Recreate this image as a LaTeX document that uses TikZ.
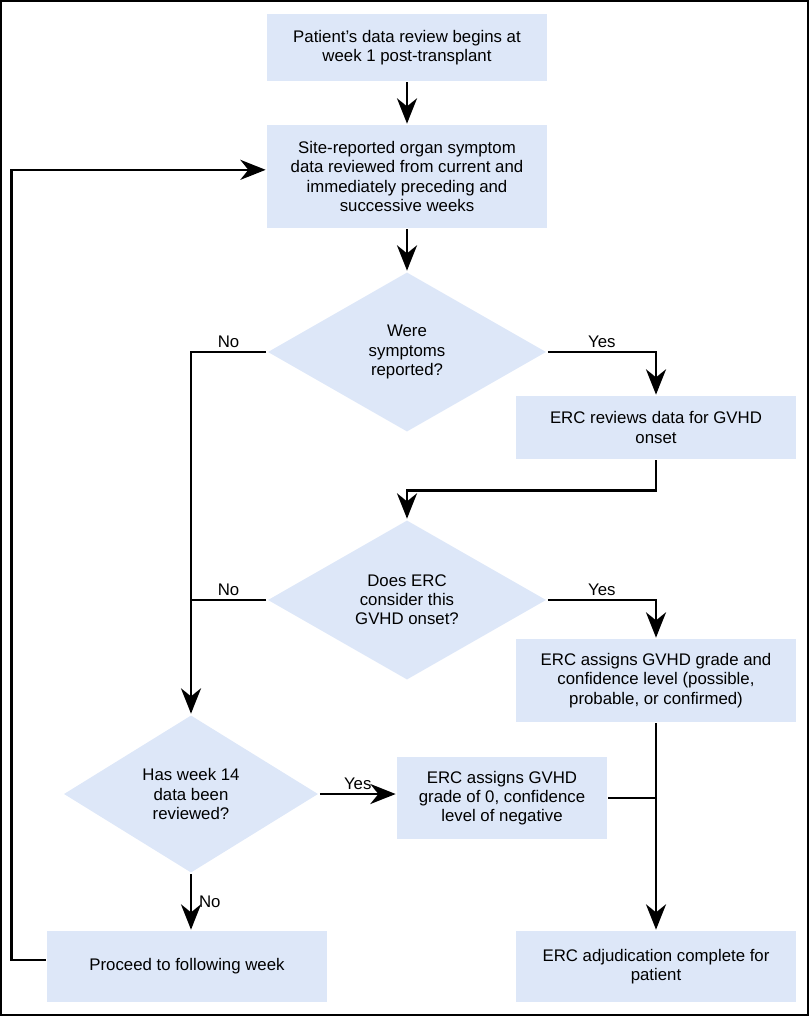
\documentclass[tikz,border=0pt]{standalone}
\usepackage{fontspec}
\setmainfont{Liberation Sans}
\usetikzlibrary{shapes.geometric}
\usetikzlibrary{arrows.meta}
\usetikzlibrary{calc}

\definecolor{boxblue}{RGB}{221,231,248}

\begin{document}
\begin{tikzpicture}[
	x=0.75pt,
	y=-0.75pt,
	font=\fontsize{12.6}{14.4}\selectfont,
	line width=2pt]

\tikzstyle{process}=[rectangle,fill=boxblue,align=center,inner sep=0pt,
	minimum width=210pt]
\tikzstyle{decision}=[diamond,fill=boxblue,align=center,inner sep=0pt,
	aspect=1.74]
\tikzstyle{flow}=[-{Stealth[length=19pt,width=15pt,inset=6pt]}]
\tikzstyle{answer}=[inner sep=2pt]

\def\MainX{407}
\def\RightX{656}
\def\LeftX{191}

\useasboundingbox (0,0) rectangle (810,1017);

% frame
\draw[line width=1.3pt] (1,1) rectangle (808,1015);

% main column
\node (start) at (\MainX, 47.5) [process, minimum height=50.25pt]
	{Patient’s data review begins at\\week 1 post-transplant};
\node (review) at (\MainX, 176.5) [process, minimum height=77.25pt]
	{Site-reported organ symptom\\data reviewed from current and\\immediately preceding and\\successive weeks};
\node (symptoms) at (\MainX, 352) [decision,
	minimum width=209.25pt, minimum height=120pt]
	{Were\\symptoms\\reported?};
\node (onset) at (\MainX, 600) [decision,
	minimum width=209.25pt, minimum height=120pt]
	{Does ERC\\consider this\\GVHD onset?};

% right column
\node (ercreview) at (\RightX, 427.5) [process, minimum height=47.25pt]
	{ERC reviews data for GVHD\\onset};
\node (grade) at (\RightX, 680.5) [process, minimum height=62.25pt]
	{ERC assigns GVHD grade and\\confidence level (possible,\\probable, or confirmed)};
\node (complete) at (\RightX, 966.5) [process, minimum height=53.25pt]
	{ERC adjudication complete for\\patient};

% left column
\node (week14) at (\LeftX, 794) [decision,
	minimum width=191.25pt, minimum height=118.5pt]
	{Has week 14\\data been\\reviewed?};
\node (negative) at (502, 798) [process,
	minimum width=157.5pt, minimum height=61.5pt]
	{ERC assigns GVHD\\grade of 0, confidence\\level of negative};
\node (nextweek) at (187, 966.5) [process, minimum height=53.25pt]
	{Proceed to following week};

% connectors
\draw[flow] (start) -- (review);
\draw[flow] (review) -- (symptoms);

\draw[flow] (symptoms.east) -| node[answer,above,pos=0.25] {Yes}
	(ercreview.north);
\draw[flow] (symptoms.west) -| node[answer,above,pos=0.25] {No}
	(week14.north);

\draw[flow] (ercreview.south) -- ++(0,30) -| (onset.north);

\draw[flow] (onset.east) -| node[answer,above,pos=0.25] {Yes}
	(grade.north);
\draw (onset.west) -- node[answer,above] {No}
	(onset.west -| week14.north);

\draw[flow] (week14.east) -- node[answer,above] {Yes}
	(week14.east -| negative.west);
\draw[flow] (week14.south) -- node[answer,right=3pt] {No}
	(week14.south |- nextweek.north);

\draw[flow] (grade.south) -- (grade.south |- complete.north);
\draw (negative.east) -- (negative.east -| grade.south);

% back to the weekly review
\draw[flow] ([yshift=5pt]nextweek.west) -- ++(-34,0)
	|- ([yshift=5pt]review.west);

\end{tikzpicture}
\end{document}
